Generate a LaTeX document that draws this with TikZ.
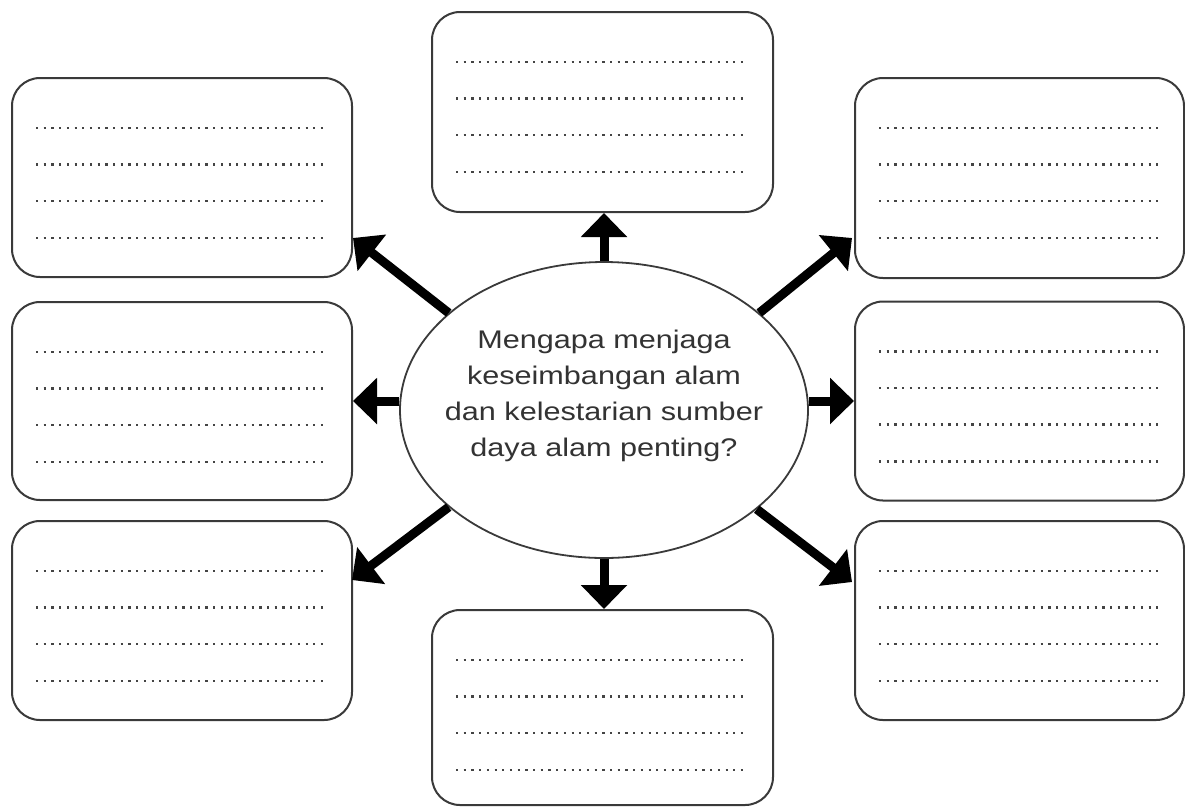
\documentclass[tikz,border=0pt]{standalone}
\usepackage{fontspec}
\usepackage{graphicx}
\setmainfont{Liberation Sans}
\usetikzlibrary{arrows.meta,shapes.geometric,calc}
\definecolor{boxline}{HTML}{3A3A3A}
\definecolor{dotcol}{HTML}{444444}
\definecolor{txt}{HTML}{333333}
\newcommand\stretchx[1]{\scalebox{1.2}[1]{#1}}
\begin{document}
\begin{tikzpicture}[x=1pt,y=-1pt,
  card/.style={draw=boxline, line width=2pt, rounded corners=28pt, fill=white, inner sep=0pt, rectangle},
  hub/.style={ellipse, draw=boxline, line width=1.8pt, inner sep=0pt, minimum width=408pt, minimum height=296pt},
  arr/.style={draw=black, line width=9pt, -{Triangle[width=45pt,length=24pt]}},
  dotline/.style={draw=dotcol, line width=2.2pt, dash pattern=on 2.2pt off 5.5pt}]
\useasboundingbox (0,0) rectangle (1185,807);
\fill[white] (0,0) rectangle (1185,807);

% boxes
\node[card, minimum width=340pt, minimum height=199pt] (tl) at (182,177.5) {};
\node[card, minimum width=340pt, minimum height=198pt] (ml) at (182,401) {};
\node[card, minimum width=340pt, minimum height=199pt] (bl) at (182,620.5) {};
\node[card, minimum width=329pt, minimum height=200pt] (tr) at (1019.5,178) {};
\node[card, minimum width=329pt, minimum height=199pt] (mr) at (1019.5,401) {};
\node[card, minimum width=329pt, minimum height=199pt] (br) at (1019.5,620.5) {};
\node[card, minimum width=341pt, minimum height=200pt] (t) at (602.5,112) {};
\node[card, minimum width=341pt, minimum height=195pt] (b) at (602.5,707.5) {};

% dotted writing lines
\foreach \bx in {tl,ml,bl,tr,mr,br,t,b}{
  \foreach \dy in {51,87.5,124,161}{
    \draw[dotline] ($(\bx.north west)+(25,\dy)$) -- ($(\bx.north east)+(-27,\dy)$);
  }
}

% hub
\node[hub] (c) at (604,410) {};
\node[text=txt, align=center, font=\fontsize{25.5}{36}\selectfont] (q) at (604,396)
  {\stretchx{Mengapa menjaga}\\\stretchx{keseimbangan alam}\\\stretchx{dan kelestarian sumber}\\\stretchx{daya alam penting?}};

% tip coordinates
\coordinate (tlp) at (353,238);
\coordinate (trp) at (852,238);
\coordinate (brp) at (852,582);
\coordinate (blp) at (352,580);

% arrows
\draw[arr] (c.north) -- (c.north |- t.south);
\draw[arr] (c.south) -- (c.south |- b.north);
\draw[arr] (c.west |- ml.east) -- (ml.east);
\draw[arr] (c.east |- mr.west) -- (mr.west);
\draw[arr] (c.148) -- (tlp);
\draw[arr] (c.32.5) -- (trp);
\draw[arr] (c.327.6) -- (brp);
\draw[arr] (c.212) -- (blp);
\end{tikzpicture}
\end{document}
